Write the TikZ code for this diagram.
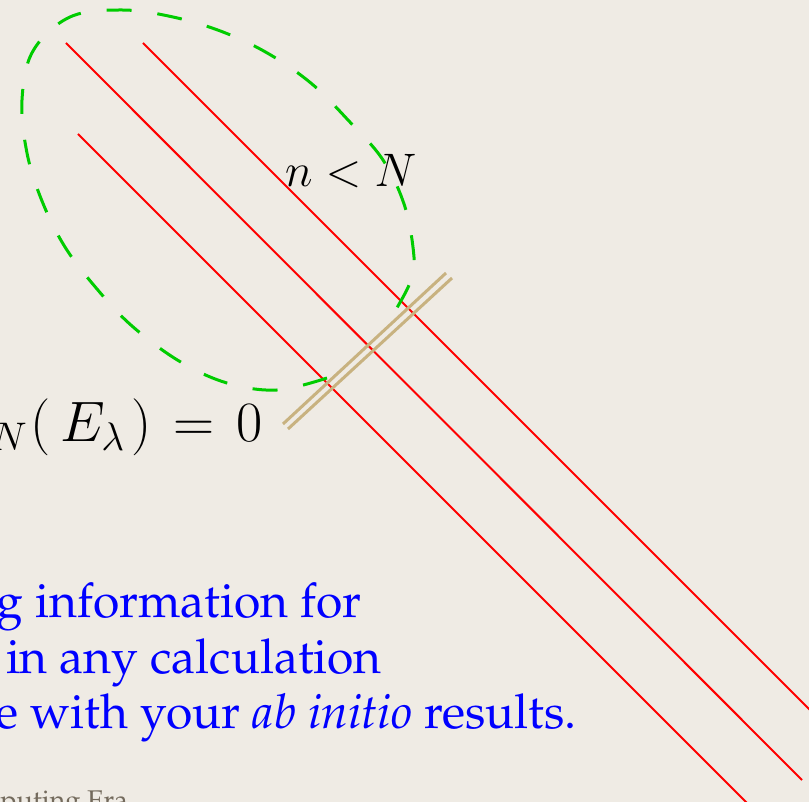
\RequirePackage{fix-cm}
\documentclass[tikz,border=0pt]{standalone}
\usepackage[T1,TU]{fontenc}
\usetikzlibrary{positioning}
\definecolor{paper}{RGB}{239,235,228}
\definecolor{linered}{RGB}{255,0,0}
\definecolor{ovalgreen}{RGB}{0,204,0}
\definecolor{barbrown}{RGB}{200,178,128}
\definecolor{textblue}{RGB}{0,0,255}
\definecolor{footgray}{RGB}{115,106,92}
\newcommand{\palafont}{\fontencoding{T1}\fontfamily{ppl}\selectfont}

\begin{document}
\begin{tikzpicture}[x=1pt,y=-1pt,
redline/.style={draw=linered,line width=2pt},
barline/.style={draw=barbrown,line width=3pt},
oval/.style={draw=ovalgreen,line width=3pt,dash pattern=on 25pt off 26pt},
bluetext/.style={text=textblue,inner sep=0pt,anchor=base east,
  font=\palafont\fontsize{48}{52}\selectfont}]

\useasboundingbox (0,0) rectangle (809,802);
\fill[paper] (0,0) rectangle (809,802);
\clip (0,0) rectangle (809,802);

% three channels
\coordinate (c1a) at (66,43);  \coordinate (c1b) at (802,780);
\coordinate (c2a) at (143,43); \coordinate (c2b) at (830,730);
\coordinate (c3a) at (78,134); \coordinate (c3b) at (760,816);
\draw[redline] (c1a)--(c1b);
\draw[redline] (c2a)--(c2b);
\draw[redline] (c3a)--(c3b);

\node[anchor=base west,inner sep=0pt,font=\fontsize{47}{50}\selectfont]
(cond) at (285,187) {$n<N$};

% region
\draw[oval] plot[smooth,tension=0.6] coordinates {(327,378) (277,390)
  (227,383) (179,361) (132,326) (97,289) (65,247) (42,201) (27,153)
  (22,100) (33,51) (70,17) (122,10) (173,17) (223,32) (269,54) (312,84)
  (348,120) (383,160) (405,207) (414,257) (411,280) (398,306) (384,327)};

% cut
\coordinate (b1a) at (283,424); \coordinate (b1b) at (446,273);
\coordinate (b2a) at (288,429); \coordinate (b2b) at (452,278);
\draw[barline] (b1a)--(b1b);
\draw[barline] (b2a)--(b2b);

\node[anchor=base east,inner sep=0pt,font=\fontsize{57}{60}\selectfont]
(det) at (263,442)
{${}_{N}\mkern1mu(\mkern3mu E_\lambda\mkern2mu)\mkern2mu=\mkern2mu 0$};

\node[bluetext] (t1) at (362,617) {g information for};
\node[bluetext] (t2) at (382,673) {in any calculation};
\node[bluetext] (t3) at (577,728) {e with your \textit{ab initio} results.};

\node[anchor=base east,inner sep=0pt,text=footgray,
  font=\palafont\fontsize{27}{30}\selectfont] (foot) at (128,809) {puting Era};
\end{tikzpicture}
\end{document}
